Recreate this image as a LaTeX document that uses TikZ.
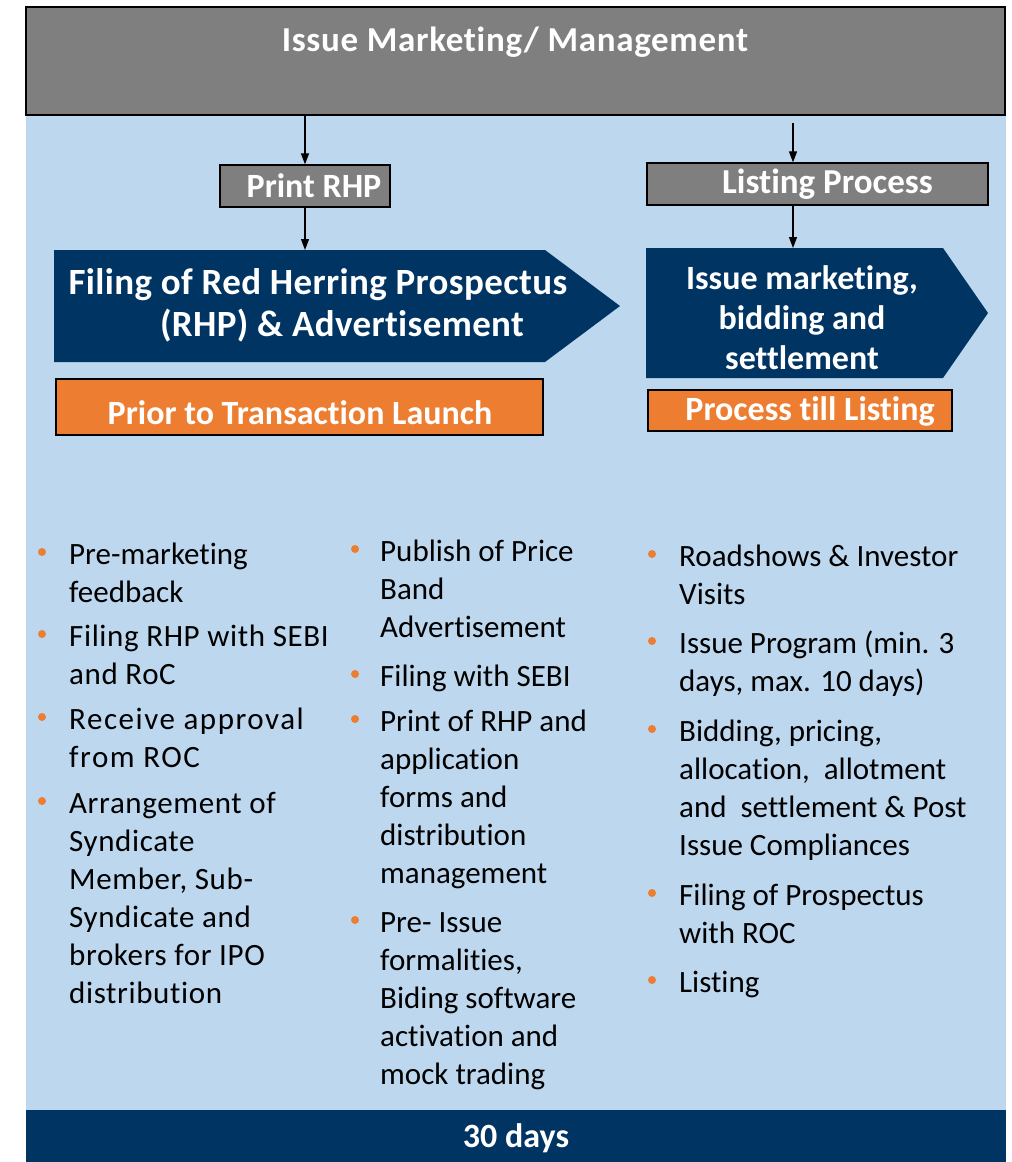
\documentclass[tikz,border=0pt]{standalone}
\usepackage{fontspec}
\setmainfont{Carlito}[Ligatures=NoCommon]
\usetikzlibrary{arrows.meta}
\definecolor{lblue}{HTML}{BDD7EE}
\definecolor{navy}{HTML}{003463}
\definecolor{gbox}{HTML}{7F7F7F}
\definecolor{orng}{HTML}{ED7D31}
\newcommand\bodyfnt{\fontsize{31pt}{38pt}\selectfont}
\newcommand\headfnt[1]{\fontsize{#1pt}{#1pt}\selectfont\bfseries}
\begin{document}
\begin{tikzpicture}[x=1pt,y=-1pt,
  graybox/.style={draw=black, line width=1.3pt, fill=gbox, inner sep=0pt, text=white},
  orbox/.style={draw=black, line width=1.2pt, fill=orng, inner sep=0pt, text=white},
  arr/.style={line width=1.2pt, -{Triangle[length=11pt,width=8pt]}},
  wtxt/.style={text=white, inner sep=0pt},
  item/.style={anchor=base west, inner sep=0pt, font=\bodyfnt},
  dot/.style={circle, fill=orng, inner sep=0pt, minimum size=8pt}
]
\useasboundingbox (0,0) rectangle (1012,1162);
% background
\fill[lblue] (26,115) rectangle (1006,1110);
\node[fill=navy, inner sep=0pt, minimum width=980pt, minimum height=52pt] (bar) at (516,1136) {};
\node[wtxt, font=\headfnt{34}] (days) at (516,1138) {30 days};
% top box
\node[graybox, minimum width=979pt, minimum height=108pt] (top) at (515.5,61) {};
\node[wtxt, font=\headfnt{35}] (toptxt) at (515,42) {\addfontfeature{LetterSpace=2}Issue Marketing/ Management};
% small gray boxes
\node[graybox, minimum width=170pt, minimum height=42pt, font=\headfnt{34}] (prhp) at (305,186) {\hspace*{18pt}Print RHP};
\node[graybox, minimum width=341pt, minimum height=42pt, font=\headfnt{35}] (lp) at (817.5,184) {\hspace*{20pt}Listing Process};
% chevrons
\fill[navy] (54,250) -- (545,250) -- (620,306) -- (545,362) -- (54,362) -- cycle;
\coordinate (lct) at (306,250);
\node[wtxt, font=\headfnt{37}] (lc1) at (318,285) {\addfontfeature{LetterSpace=1}Filing of Red Herring Prospectus};
\node[wtxt, font=\headfnt{37}] (lc2) at (342,326) {\addfontfeature{LetterSpace=1}(RHP) \& Advertisement};
\fill[navy] (646,248) -- (943,248) -- (988,313) -- (943,378) -- (646,378) -- cycle;
\coordinate (rs) at (793,123);
\coordinate (rct) at (793,248);
\node[wtxt, font=\headfnt{34}, align=center] (rc) at (802,318)
  {Issue marketing,\\[6pt]bidding and\\[6pt]settlement};
% orange boxes
\node[orbox, minimum width=487pt, minimum height=56pt] (ol) at (299.5,407) {};
\node[wtxt, font=\headfnt{34}] (oltxt) at (300,413) {Prior to Transaction Launch};
\node[orbox, minimum width=304pt, minimum height=41pt] (or) at (800,410.5) {};
\node[wtxt, font=\headfnt{34}] (ortxt) at (810,411) {Process till Listing};
% arrows
\draw[arr] (prhp.north |- top.south) -- (prhp.north);
\draw[arr] (prhp.south) -- (prhp.south |- lct);
\draw[arr] (rs) -- (rs |- lp.north);
\draw[arr] (rs |- lp.south) -- (rct);
% column 1
\node[dot] (d11) at (42,552) {};
\node[item] (t11) at (69,564) {\parbox[t]{280pt}{\raggedright Pre-marketing\\feedback}};
\node[dot] (d12) at (42,634) {};
\node[item] (t12) at (69,646) {\parbox[t]{290pt}{\raggedright\addfontfeature{LetterSpace=2}Filing RHP with SEBI\\and RoC}};
\node[dot] (d13) at (42,717) {};
\node[item] (t13) at (69,729) {\parbox[t]{280pt}{\raggedright\addfontfeature{LetterSpace=5}Receive approval\\from ROC}};
\node[dot] (d14) at (42,801) {};
\node[item] (t14) at (69,813) {\parbox[t]{280pt}{\raggedright\addfontfeature{LetterSpace=2}Arrangement of\\Syndicate\\Member, Sub-\\Syndicate and\\brokers for IPO\\distribution}};
% column 2
\node[dot] (d21) at (355,549) {};
\node[item] (t21) at (380,561) {\parbox[t]{260pt}{\raggedright Publish of Price\\Band\\Advertisement}};
\node[dot] (d22) at (355,674) {};
\node[item] (t22) at (380,686) {\parbox[t]{260pt}{\raggedright Filing with SEBI}};
\node[dot] (d23) at (355,719) {};
\node[item] (t23) at (380,731) {\parbox[t]{260pt}{\raggedright Print of RHP and\\application\\forms and\\distribution\\management}};
\node[dot] (d24) at (355,920) {};
\node[item] (t24) at (380,932) {\parbox[t]{260pt}{\raggedright Pre- Issue\\formalities,\\Biding software\\activation and\\mock trading}};
% column 3
\node[dot] (d31) at (652,554) {};
\node[item] (t31) at (679,566) {\parbox[t]{320pt}{\raggedright Roadshows \& Investor\\Visits}};
\node[dot] (d32) at (652,641) {};
\node[item] (t32) at (679,653) {\parbox[t]{320pt}{\raggedright Issue Program (min. 3\\days, max. 10 days)}};
\node[dot] (d33) at (652,729) {};
\node[item] (t33) at (679,741) {\parbox[t]{320pt}{\raggedright Bidding, pricing,\\allocation,\ \ allotment\\and\ \ settlement \& Post\\Issue Compliances}};
\node[dot] (d34) at (652,893) {};
\node[item] (t34) at (679,905) {\parbox[t]{320pt}{\raggedright Filing of Prospectus\\with ROC}};
\node[dot] (d35) at (652,980) {};
\node[item] (t35) at (679,992) {\parbox[t]{320pt}{\raggedright Listing}};
\end{tikzpicture}
\end{document}
